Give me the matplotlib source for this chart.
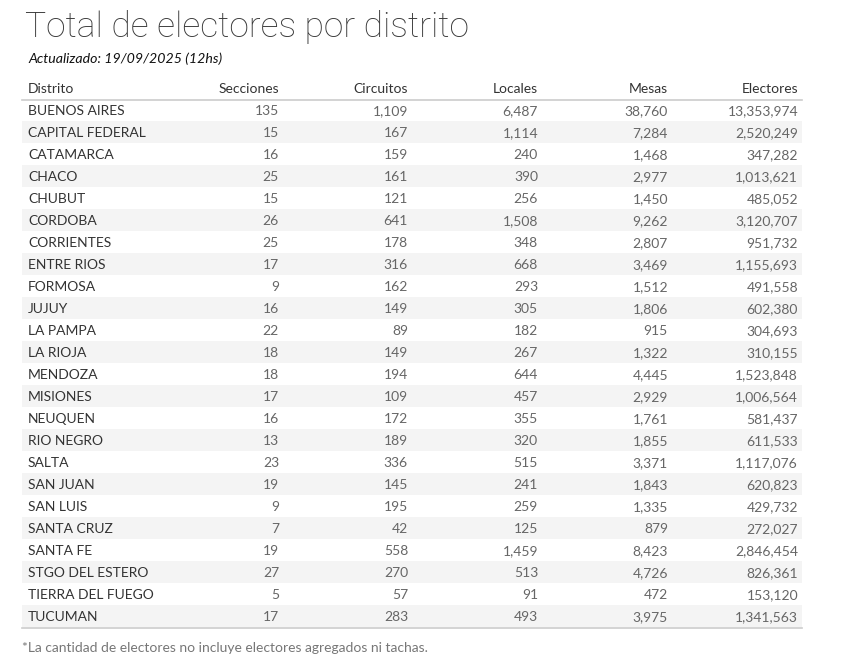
import matplotlib
matplotlib.use("Agg")
import matplotlib.pyplot as plt
from matplotlib.patches import Rectangle

distritos = ["BUENOS AIRES", "CAPITAL FEDERAL", "CATAMARCA", "CHACO", "CHUBUT", "CORDOBA",
             "CORRIENTES", "ENTRE RIOS", "FORMOSA", "JUJUY", "LA PAMPA", "LA RIOJA", "MENDOZA",
             "MISIONES", "NEUQUEN", "RIO NEGRO", "SALTA", "SAN JUAN", "SAN LUIS", "SANTA CRUZ",
             "SANTA FE", "STGO DEL ESTERO", "TIERRA DEL FUEGO", "TUCUMAN"]
secciones = [135, 15, 16, 25, 15, 26, 25, 17, 9, 16, 22, 18, 18, 17, 16, 13, 23, 19, 9, 7, 19, 27, 5, 17]
circuitos = [1109, 167, 159, 161, 121, 641, 178, 316, 162, 149, 89, 149, 194, 109, 172, 189, 336, 145,
             195, 42, 558, 270, 57, 283]
locales = [6487, 1114, 240, 390, 256, 1508, 348, 668, 293, 305, 182, 267, 644, 457, 355, 320, 515, 241,
           259, 125, 1459, 513, 91, 493]
mesas = [38760, 7284, 1468, 2977, 1450, 9262, 2807, 3469, 1512, 1806, 915, 1322, 4445, 2929, 1761, 1855,
         3371, 1843, 1335, 879, 8423, 4726, 472, 3975]
electores = [13353974, 2520249, 347282, 1013621, 485052, 3120707, 951732, 1155693, 491558, 602380,
             304693, 310155, 1523848, 1006564, 581437, 611533, 1117076, 620823, 429732, 272027,
             2846454, 826361, 153120, 1341563]
headers = ["Distrito", "Secciones", "Circuitos", "Locales", "Mesas", "Electores"]
title = "Total de electores por distrito"
subtitle = "Actualizado: 19/09/2025 (12hs)"
footnote = "*La cantidad de electores no incluye electores agregados ni tachas."

W, H = 866, 668
fig = plt.figure(figsize=(W / 100, H / 100), dpi=100)
ax = fig.add_axes([0, 0, 1, 1])
ax.set_xlim(0, W)
ax.set_ylim(H, 0)
ax.axis("off")

FONT = "Lato"
dark = "#333333"
num_col = "#666666"

ax.text(25, 27, title, fontsize=25.5, color="#3a3a3a", family="Roboto", fontweight="light", va="center", ha="left")
ax.text(28, 59, subtitle, fontsize=10.2, color="#111111", family=FONT, style="italic", va="center", ha="left")

left, right = 22, 802
col_right = [279, 408, 538, 668, 798]
row0 = 110
rh = 22
dy = 1.0

ax.text(28, 88 + dy, headers[0], fontsize=10, color=dark, family=FONT, va="center", ha="left")
for cx, h in zip(col_right, headers[1:]):
    ax.text(cx, 88 + dy, h, fontsize=10, color=dark, family=FONT, va="center", ha="right")
ax.plot([left, right], [99.5, 99.5], color="#cccccc", lw=1.2)

cols = [secciones, circuitos, locales, mesas, electores]
for i, d in enumerate(distritos):
    y = row0 + i * rh
    if i % 2 == 1:
        ax.add_patch(Rectangle((left, y - rh / 2), right - left, rh, facecolor="#f4f4f4", edgecolor="none"))
    ax.text(28, y + dy, d, fontsize=10, color=dark, family=FONT, va="center", ha="left")
    for cx, col in zip(col_right, cols):
        ax.text(cx, y + dy, f"{col[i]:,}", fontsize=10, color=num_col, family=FONT, va="center", ha="right")

ybot = row0 + (len(distritos) - 1) * rh + rh / 2 + 0.5
ax.plot([left, right], [ybot, ybot], color="#cccccc", lw=1.2)

ax.text(22, 648, footnote, fontsize=10, color="#777777", family=FONT, va="center", ha="left")

fig.savefig("out.png", dpi=100, facecolor="white")
